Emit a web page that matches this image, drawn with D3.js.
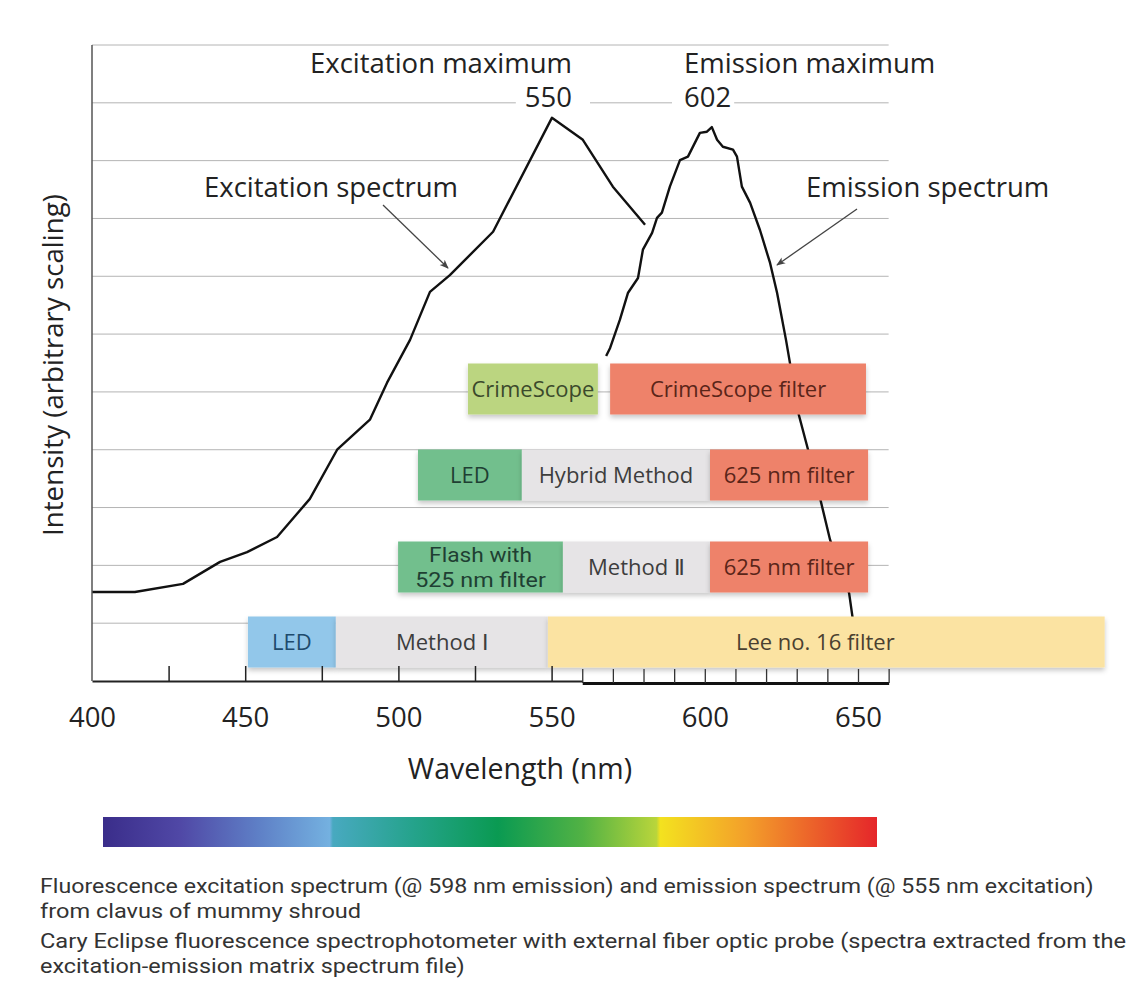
<!DOCTYPE html>
<html>
<head>
<meta charset="utf-8">
<script src="https://cdn.jsdelivr.net/npm/d3@7"></script>
<style>
  html, body { margin: 0; padding: 0; background: #ffffff; }
  svg { display: block; font-family: "Open Sans", "Noto Sans", sans-serif; }
</style>
</head>
<body>
<svg id="chart" width="1127" height="984"></svg>
<script>
// ---- Spectra (wavelength in nm, intensity in arbitrary units) ----
const excitationNm = [400, 414, 429.7, 441.8, 450.6, 460.4, 471.1, 480, 490.7, 496.3, 503.8, 510.3, 516.8, 530.9, 550.1, 560.2, 570, 580.5];
const excitationI  = [1.54, 1.54, 1.68, 2.06, 2.23, 2.49, 3.15, 4.0, 4.52, 5.16, 5.9, 6.73, 7.02, 7.77, 9.74, 9.36, 8.55, 7.89];

const emissionNm = [567.8, 569.1, 572.3, 574.9, 578.2, 579.8, 582.8, 584.4, 586, 588.6, 591.9, 594.5, 598.4, 600.7, 602.3, 604, 605.9, 609.2, 610.5, 612.1, 614.8, 618, 621.3, 623.6, 626.5, 630.7, 633.7, 637.9, 640.9, 647.1, 648.2, 650];
const emissionI  = [5.62, 5.76, 6.25, 6.71, 6.97, 7.46, 7.75, 8.01, 8.10, 8.55, 9.01, 9.07, 9.48, 9.50, 9.58, 9.36, 9.24, 9.19, 9.07, 8.55, 8.27, 7.80, 7.23, 6.71, 5.90, 4.60, 4.00, 3.10, 2.44, 1.52, 1.11, 0.35];

// ---- Light sources / filters (wavelength ranges in nm) ----
const bandRows   = ["CrimeScope", "CrimeScope", "Hybrid", "Hybrid", "Hybrid", "Method II", "Method II", "Method II", "Method I", "Method I", "Method I"];
const bandLabels = ["CrimeScope", "CrimeScope filter", "LED", "Hybrid Method", "625 nm filter", "Flash with\n525 nm filter", "Method Ⅱ", "625 nm filter", "LED", "Method Ⅰ", "Lee no. 16 filter"];
const bandStart  = [522.7, 569.1, 506.4, 540.3, 601.7, 499.9, 553.7, 601.7, 450.9, 479.6, 548.8];
const bandEnd    = [565.1, 652.6, 540.3, 601.7, 653.3, 553.7, 601.7, 653.3, 479.6, 548.8, 730.5];
const bandKind   = ["lime", "red", "green", "grey", "red", "green", "grey", "red", "blue", "grey", "yellow"];

// ---- Axes ----
const xLabelTicks     = [400, 450, 500, 550, 600, 650];
const excitationTicks = [425, 450, 475, 500, 525, 550];
const emissionTicks   = [560, 570, 580, 590, 600, 610, 620, 630, 640, 650, 660];
const gridLevels      = [1, 2, 3, 4, 5, 6, 7, 8, 9, 10, 11];

// ---- Annotations ----
const excitationPeak = 550;
const emissionPeak   = 602;

// ---- Visible spectrum bar ----
const spectrumStops = [
  [0.00, "#3a2d8a"], [0.10, "#5048a6"], [0.20, "#5e7fc6"], [0.293, "#74b1e0"],
  [0.297, "#48a9c0"], [0.40, "#25a38c"], [0.51, "#0a9a52"], [0.62, "#52b244"],
  [0.715, "#b9d53b"], [0.72, "#f3e21f"], [0.83, "#f3a02a"], [1.00, "#e5262a"]
];

const captionLines = [
  "Fluorescence excitation spectrum (@ 598 nm emission) and emission spectrum (@ 555 nm excitation)",
  "from clavus of mummy shroud",
  "Cary Eclipse fluorescence spectrophotometer with external fiber optic probe (spectra extracted from the",
  "excitation-emission matrix spectrum file)"
];

// ================= drawing =================
const svg = d3.select("#chart");

const x = d3.scaleLinear().domain([400, 650]).range([92, 858]);
const y = d3.scaleLinear().domain([0, 11]).range([681, 45]);
const xEnd = 660;

const rowY = d3.scaleOrdinal()
  .domain(["CrimeScope", "Hybrid", "Method II", "Method I"])
  .range([389, 475, 567, 642]);
const rowH = 51;

const kindFill = {
  lime: "#bbd580", red: "#ee826a", green: "#72bf8d", grey: "#e6e4e6",
  blue: "#92c7ea", yellow: "#fbe3a2"
};
const kindText = {
  lime: "#3b4a2c", red: "#5a2519", green: "#1f3f33", grey: "#3d3d3d",
  blue: "#1d4a6c", yellow: "#4a4030"
};

// Tightly leaded lines: set in Roboto (compact line box) and stretched to the
// width the same line takes in Open Sans at the nominal size.
function measureWidth(str, size, family) {
  const t = svg.append("text").attr("font-size", size).attr("font-family", family).text(str);
  const w = t.node().getComputedTextLength();
  t.remove();
  return w;
}
function tightText(sel, str, openSize, compactSize) {
  const w = measureWidth(str, openSize, "'Open Sans', sans-serif");
  sel.attr("font-family", "Roboto, 'Open Sans', sans-serif")
    .attr("font-size", compactSize)
    .attr("textLength", w).attr("lengthAdjust", "spacingAndGlyphs")
    .text(str);
}

const defs = svg.append("defs");
const shadow = defs.append("filter").attr("id", "soft")
  .attr("x", "-5%").attr("y", "-20%").attr("width", "110%").attr("height", "150%");
shadow.append("feDropShadow").attr("dx", 0).attr("dy", 3).attr("stdDeviation", 2.5)
  .attr("flood-color", "#000").attr("flood-opacity", 0.22);

const arrow = defs.append("marker").attr("id", "arrowHead")
  .attr("viewBox", "0 0 10 10").attr("refX", 9).attr("refY", 5)
  .attr("markerWidth", 9).attr("markerHeight", 9).attr("orient", "auto")
  .attr("markerUnits", "userSpaceOnUse");
arrow.append("path").attr("d", "M0,1 L10,5 L0,9 L2.5,5 Z").attr("fill", "#444");

// gridlines
svg.append("g").selectAll("line").data(gridLevels).join("line")
  .attr("x1", x(400)).attr("x2", x(xEnd))
  .attr("y1", d => y(d)).attr("y2", d => y(d))
  .attr("stroke", "#b4b4b4").attr("stroke-width", 1);

// spectra
const line = d3.line().x(d => x(d[0])).y(d => y(d[1]));
const excitation = excitationNm.map((v, i) => [v, excitationI[i]]);
const emission = emissionNm.map((v, i) => [v, emissionI[i]]);
svg.append("path").datum(excitation).attr("d", line)
  .attr("fill", "none").attr("stroke", "#111").attr("stroke-width", 2.4).attr("stroke-linejoin", "round");
svg.append("path").datum(emission).attr("d", line)
  .attr("fill", "none").attr("stroke", "#111").attr("stroke-width", 2.4).attr("stroke-linejoin", "round");

// bands
const bands = bandLabels.map((label, i) => ({
  label, row: bandRows[i], x0: bandStart[i], x1: bandEnd[i], kind: bandKind[i]
}));
const labelX = d => (x(d.x0) + x(d.x1)) / 2 - (d.kind === "yellow" ? 11 : 0);
const bandG = svg.append("g").selectAll("g").data(bands).join("g");
bandG.append("rect")
  .attr("x", d => x(d.x0)).attr("width", d => x(d.x1) - x(d.x0))
  .attr("y", d => rowY(d.row) - rowH / 2).attr("height", rowH)
  .attr("fill", d => kindFill[d.kind]).attr("filter", "url(#soft)");
bandG.each(function (d) {
  const g = d3.select(this);
  const parts = d.label.split("\n");
  if (parts.length === 1) {
    g.append("text").attr("x", labelX(d)).attr("y", rowY(d.row)).attr("dy", "0.35em")
      .attr("text-anchor", "middle").attr("font-size", 22)
      .attr("fill", kindText[d.kind]).text(d.label);
  } else {
    parts.forEach((p, k) => {
      const t = g.append("text").attr("x", labelX(d))
        .attr("y", rowY(d.row) - 12.5 + k * 25 + 7.5)
        .attr("text-anchor", "middle").attr("fill", kindText[d.kind]);
      tightText(t, p, 22, 20.5);
    });
  }
});

// axes
const xExc = d3.scaleLinear().domain([400, 560]).range([x(400), x(560)]);
const xEm = d3.scaleLinear().domain([560, xEnd]).range([x(560), x(xEnd)]);

const gExc = svg.append("g").attr("transform", `translate(0,${y(0)})`)
  .call(d3.axisBottom(xExc).tickValues(excitationTicks).tickSizeInner(-15).tickSizeOuter(0).tickFormat(""));
gExc.select(".domain").attr("stroke", "#222").attr("stroke-width", 2);
gExc.selectAll(".tick line").attr("stroke", "#222").attr("stroke-width", 1.5);

const gEm = svg.append("g").attr("transform", `translate(0,${y(0) + 2})`)
  .call(d3.axisBottom(xEm).tickValues(emissionTicks).tickSizeInner(-14).tickSizeOuter(0).tickFormat(""));
gEm.select(".domain").attr("stroke", "#111").attr("stroke-width", 3);
gEm.selectAll(".tick line").attr("stroke", "#333").attr("stroke-width", 1.3);

const gLab = svg.append("g").attr("transform", `translate(0,${y(0)})`)
  .call(d3.axisBottom(x).tickValues(xLabelTicks).tickSize(0).tickPadding(26).tickFormat(d3.format("d")));
gLab.select(".domain").remove();
gLab.selectAll("text").attr("font-size", 27.5).attr("fill", "#222")
  .attr("font-family", "'Open Sans', sans-serif");

// left axis line
svg.append("line").attr("x1", x(400)).attr("x2", x(400)).attr("y1", y(11)).attr("y2", y(0))
  .attr("stroke", "#555").attr("stroke-width", 1.5);

// axis titles
svg.append("text").attr("x", 520).attr("y", 779).attr("text-anchor", "middle")
  .attr("font-size", 28.5).attr("fill", "#222").text("Wavelength (nm)");
svg.append("text").attr("transform", "translate(63,365) rotate(-90)").attr("text-anchor", "middle")
  .attr("font-size", 27.7).attr("fill", "#222").text("Intensity (arbitrary scaling)");

// peak annotations (value sits on a white patch that interrupts the gridline)
function peakLabel(title, value, px, anchor, padL, padR) {
  const g = svg.append("g");
  const vt = g.append("text").attr("x", px).attr("y", 107).attr("text-anchor", anchor)
    .attr("font-size", 27.5).attr("fill", "#222").text(value);
  const bb = vt.node().getBBox();
  g.insert("rect", "text").attr("x", bb.x - padL).attr("y", bb.y)
    .attr("width", bb.width + padL + padR).attr("height", bb.height).attr("fill", "#fff");
  g.append("text").attr("x", px).attr("y", 73).attr("text-anchor", anchor)
    .attr("font-size", 27.5).attr("fill", "#222").text(title);
}
peakLabel("Excitation maximum", excitationPeak, 572, "end", 9, 18);
peakLabel("Emission maximum", emissionPeak, 684, "start", 12, 3);

// spectrum callouts
svg.append("text").attr("x", 204).attr("y", 197).attr("font-size", 27.5).attr("fill", "#222").text("Excitation spectrum");
svg.append("text").attr("x", 806).attr("y", 197).attr("font-size", 27.5).attr("fill", "#222").text("Emission spectrum");
svg.append("line").attr("x1", 383).attr("y1", 205).attr("x2", 448).attr("y2", 268)
  .attr("stroke", "#444").attr("stroke-width", 1.3).attr("marker-end", "url(#arrowHead)");
svg.append("line").attr("x1", 857).attr("y1", 209).attr("x2", 777).attr("y2", 265)
  .attr("stroke", "#444").attr("stroke-width", 1.3).attr("marker-end", "url(#arrowHead)");

// visible spectrum strip
const grad = defs.append("linearGradient").attr("id", "visible")
  .attr("x1", "0%").attr("x2", "100%").attr("y1", "0%").attr("y2", "0%");
grad.selectAll("stop").data(spectrumStops).join("stop")
  .attr("offset", d => d[0]).attr("stop-color", d => d[1]);
svg.append("rect").attr("x", 103).attr("y", 817).attr("width", 774).attr("height", 30)
  .attr("fill", "url(#visible)");

// caption
const captionY = [893, 918, 948, 973];
svg.append("g").selectAll("text").data(captionLines).join("text")
  .attr("x", 40).attr("y", (d, i) => captionY[i]).attr("fill", "#333")
  .each(function (d) { tightText(d3.select(this), d, 22.4, 21); });
</script>
</body>
</html>
